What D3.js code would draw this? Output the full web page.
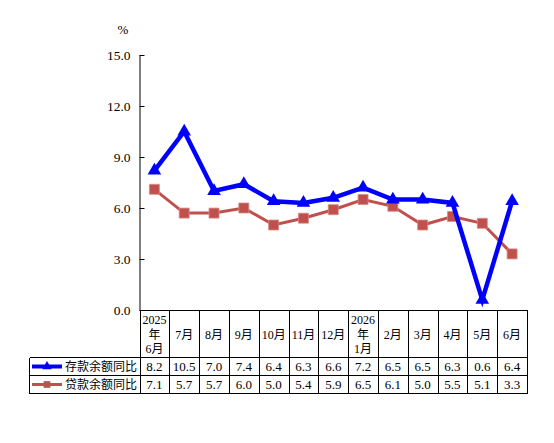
<!DOCTYPE html>
<html><head><meta charset="utf-8">
<script src="https://cdn.jsdelivr.net/npm/d3@7"></script>
<style>body{margin:0;background:#fff}svg{display:block}</style>
</head><body>
<svg id="c" width="554" height="443"></svg>
<script>
const categories = ["2025\n年\n6月","7月","8月","9月","10月","11月","12月","2026\n年\n1月","2月","3月","4月","5月","6月"];
const depositLabel = "存款余额同比";
const loanLabel = "贷款余额同比";
const deposit = [8.2,10.5,7.0,7.4,6.4,6.3,6.6,7.2,6.5,6.5,6.3,0.6,6.4];
const loan = [7.1,5.7,5.7,6.0,5.0,5.4,5.9,6.5,6.1,5.0,5.5,5.1,3.3];
const yTicks = [0,3,6,9,12,15];
const unitLabel = "%";

const svg = d3.select("#c");
const serif = "'Liberation Serif','Times New Roman',serif";
const cjk = "'Liberation Serif','Noto Sans CJK SC',serif";
const x = d3.scaleBand().domain(d3.range(categories.length)).range([139.5, 527]).padding(0);
const y = d3.scaleLinear().domain([0,15]).range([310, 55]);
const blue = "#0000FF", red = "#C0504D";

// y axis
const yAxis = d3.axisLeft(y).tickValues(yTicks).tickFormat(d3.format(".1f")).tickSizeInner(-5).tickSizeOuter(0).tickPadding(9);
const ga = svg.append("g").attr("transform","translate(139.5,0)").call(yAxis);
ga.select(".domain").attr("stroke","#000");
ga.selectAll("line").attr("stroke","#000");
ga.selectAll("text").attr("font-family",serif).attr("font-size",13.5).attr("fill","#000");
svg.append("text").attr("x",123).attr("y",34).attr("text-anchor","middle").attr("font-family",serif).attr("font-size",13).text(unitLabel);

// table
const tTop = 310.5, hBot = 357.5, r1 = 375.5, r2 = 393.5, left = 29.5, right = 527.5;
const tg = svg.append("g").attr("stroke","#000").attr("stroke-width",1).attr("shape-rendering","crispEdges");
tg.append("line").attr("x1",139.5).attr("x2",right).attr("y1",tTop).attr("y2",tTop);
[hBot,r1,r2].forEach(yy=>tg.append("line").attr("x1",left).attr("x2",right).attr("y1",yy).attr("y2",yy));
tg.append("line").attr("x1",left).attr("x2",left).attr("y1",hBot).attr("y2",r2);
const edges = d3.range(categories.length).map(i=>Math.round(x(i))+0.5).concat([right]);
edges.forEach(ex=>tg.append("line").attr("x1",ex).attr("x2",ex).attr("y1",tTop).attr("y2",r2));

// header labels
categories.forEach((c,i)=>{
  const lines = c.split("\n");
  const cx = x(i)+x.bandwidth()/2;
  const lh = 14.5;
  const cy = (tTop+hBot)/2;
  lines.forEach((t,j)=>{
    svg.append("text").attr("x",cx).attr("y",cy+(j-(lines.length-1)/2)*lh+4.5)
      .attr("text-anchor","middle").attr("font-family",cjk).attr("font-size",12).text(t);
  });
});
// values
[[deposit,(hBot+r1)/2],[loan,(r1+r2)/2]].forEach(([arr,cy])=>{
  arr.forEach((v,i)=>{
    svg.append("text").attr("x",x(i)+x.bandwidth()/2).attr("y",cy+4.5).attr("text-anchor","middle")
      .attr("font-family",serif).attr("font-size",13).text(d3.format(".1f")(v));
  });
});
// legend cells
function legend(cy,color,sym,size,lw,label){
  svg.append("line").attr("x1",32).attr("x2",62).attr("y1",cy).attr("y2",cy).attr("stroke",color).attr("stroke-width",lw);
  svg.append("path").attr("d",d3.symbol().type(sym).size(size)()).attr("transform",`translate(47,${cy})`).attr("fill",color);
  svg.append("text").attr("x",65).attr("y",cy+4.5).attr("font-family",cjk).attr("font-size",12).text(label);
}
legend((hBot+r1)/2,blue,d3.symbolTriangle,40,4,depositLabel);
legend((r1+r2)/2,red,d3.symbolSquare,45,3,loanLabel);

// series
const cxf = i=>x(i)+x.bandwidth()/2;
const line = d3.line().x((d,i)=>cxf(i)).y(d=>y(d));
svg.append("path").datum(loan).attr("d",line).attr("fill","none").attr("stroke",red).attr("stroke-width",3);
svg.append("g").selectAll("path").data(loan).join("path")
  .attr("d",d3.symbol().type(d3.symbolSquare).size(100)())
  .attr("transform",(d,i)=>`translate(${cxf(i)},${y(d)})`).attr("fill",red).attr("stroke","#d88a88").attr("stroke-width",0.8);
svg.append("path").datum(deposit).attr("d",line).attr("fill","none").attr("stroke",blue).attr("stroke-width",4.5);
svg.append("g").selectAll("path").data(deposit).join("path")
  .attr("d",d3.symbol().type(d3.symbolTriangle).size(80)())
  .attr("transform",(d,i)=>`translate(${cxf(i)},${y(d)})`).attr("fill",blue);
</script>
</body></html>
